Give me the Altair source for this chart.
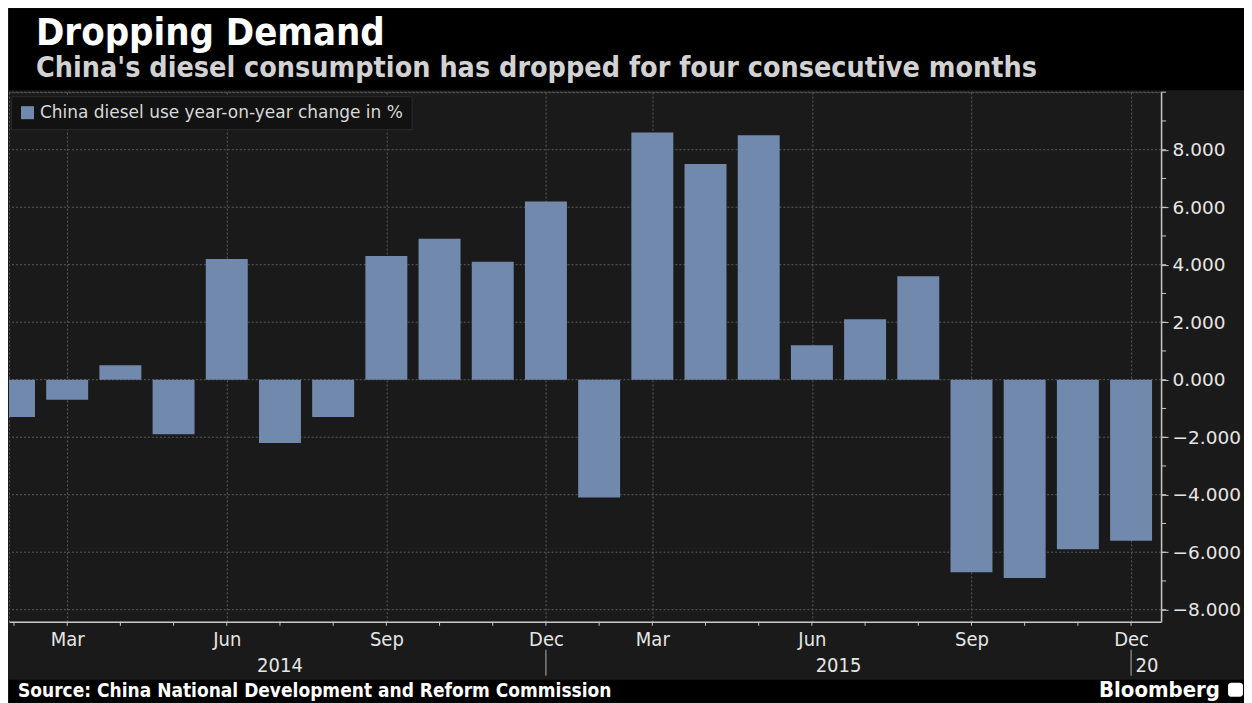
import altair as alt
import pandas as pd

# ---------------- data ----------------
MONTHS = ["Jan-Feb", "Mar", "Apr", "May", "Jun", "Jul", "Aug", "Sep", "Oct", "Nov", "Dec",
          "Jan-Feb", "Mar", "Apr", "May", "Jun", "Jul", "Aug", "Sep", "Oct", "Nov", "Dec"]
YEARS = [2014] * 11 + [2015] * 11
VALUES = [-1.3, -0.7, 0.5, -1.9, 4.2, -2.2, -1.3, 4.3, 4.9, 4.1, 6.2,
          -4.1, 8.6, 7.5, 8.5, 1.2, 2.1, 3.6, -6.7, -6.9, -5.9, -5.6]
SERIES = "China diesel use year-on-year change in %"
LABELED_MONTHS = ["Mar", "Jun", "Sep", "Dec"]
Y_LABEL_TICKS = [-8, -6, -4, -2, 0, 2, 4, 6, 8]
Y_GRID = [-8, -6, -4, -2, 0, 2, 4, 6, 8, 10]
Y_MINOR = list(range(-8, 11))
YEAR_LABELS = ["2014", "2015", "20"]
YEAR_POS = [5.0, 15.5, 21.3]
YEAR_SEPARATORS = [10, 21]
TITLE = "Dropping Demand"
SUBTITLE = "China's diesel consumption has dropped for four consecutive months"
SOURCE = "Source: China National Development and Reform Commission"
BRAND = "Bloomberg"

# ---------------- style ----------------
W, H = 1153, 530
BAR = "#7189ad"
BG = "#1a1a1a"
TXT = "#e6e6e6"
GRID = "#5c5c5c"
AX = "#c8c8c8"
NARROW = "DejaVu Sans Condensed, Liberation Sans Narrow, DejaVu Sans"

df = pd.DataFrame({"slot": list(range(len(MONTHS))), "month": MONTHS, "year": YEARS,
                   "value": VALUES, "series": [SERIES] * len(MONTHS)})
label_slots = [i for i, m in enumerate(MONTHS) if m in LABELED_MONTHS]
label_expr = "[" + ",".join("'%s'" % m for m in MONTHS) + "][datum.value]"

xscale = alt.Scale(domain=[0, 21.47], nice=False, zero=False)
yscale = alt.Scale(domain=[-8.42, 10], nice=False, zero=False)

xaxis = alt.Axis(values=label_slots, labelExpr=label_expr, title=None,
                 grid=True, gridColor=GRID, gridDash=[2, 2], ticks=False,
                 domainColor=AX, domainWidth=1.5, labelColor=TXT,
                 labelFont=NARROW, labelFontSize=20, labelPadding=8,
                 labelBaseline="top")
yaxis = alt.Axis(orient="right", values=Y_LABEL_TICKS, format=".3f", title=None,
                 grid=False, domainColor=AX, domainWidth=1.5, tickColor=AX,
                 tickSize=7, labelColor=TXT, labelFont="DejaVu Sans",
                 labelFontSize=18.5, labelPadding=4)

one = pd.DataFrame({"k": [0]})

header = alt.Chart(one).mark_rect(color="#000000").encode(
    x=alt.value(0), x2=alt.value(1236), y=alt.value(-84), y2=alt.value(-2))
footer = alt.Chart(one).mark_rect(color="#000000").encode(
    x=alt.value(0), x2=alt.value(1236), y=alt.value(588), y2=alt.value(611))
icon = alt.Chart(one).mark_rect(color="#ffffff", cornerRadius=3).encode(
    x=alt.value(1220), x2=alt.value(1235), y=alt.value(591), y2=alt.value(605))

title = alt.Chart(pd.DataFrame({"t": [TITLE]})).mark_text(
    align="left", baseline="alphabetic", font=NARROW, fontWeight="bold", fontSize=38,
    color="#ffffff").encode(x=alt.value(27), y=alt.value(-47), text="t:N")
subtitle = alt.Chart(pd.DataFrame({"t": [SUBTITLE]})).mark_text(
    align="left", baseline="alphabetic", font=NARROW, fontWeight="bold", fontSize=28.5,
    color="#d2d2d2").encode(x=alt.value(27), y=alt.value(-15), text="t:N")

bars = alt.Chart(df).mark_bar(size=42, clip=True, orient="vertical").encode(
    x=alt.X("slot:Q", scale=xscale, axis=xaxis),
    y=alt.Y("value:Q", scale=yscale, axis=yaxis),
    color=alt.Color("series:N", scale=alt.Scale(range=[BAR]),
                    legend=alt.Legend(title=None, orient="none", legendX=2, legendY=4,
                                      fillColor="#121212", strokeColor="#2c2c2c",
                                      padding=8, symbolType="square", symbolSize=170,
                                      symbolStrokeWidth=0, labelColor="#d8d8d8",
                                      labelFont="DejaVu Sans", labelFontSize=17,
                                      labelLimit=500)),
    tooltip=["year:N", "month:N", "value:Q"])

ygrid = alt.Chart(pd.DataFrame({"v": Y_GRID})).mark_rule(
    color=GRID, strokeDash=[2, 2], strokeWidth=1).encode(
    y=alt.Y("v:Q", scale=yscale, axis=yaxis))

xminor = alt.Chart(df).mark_rule(color=AX, strokeWidth=1).encode(
    x=alt.X("slot:Q", scale=xscale, axis=xaxis), y=alt.value(H), y2=alt.value(H + 4))
yminor = alt.Chart(pd.DataFrame({"v": Y_MINOR})).mark_rule(color=AX, strokeWidth=1).encode(
    y=alt.Y("v:Q", scale=yscale, axis=yaxis), x=alt.value(W), x2=alt.value(W + 5))

years = alt.Chart(pd.DataFrame({"pos": YEAR_POS, "lab": YEAR_LABELS})).mark_text(
    align="center", baseline="alphabetic", font=NARROW, fontSize=20, color=TXT).encode(
    x=alt.X("pos:Q", scale=xscale, axis=xaxis), y=alt.value(H + 50), text="lab:N")
seps = alt.Chart(pd.DataFrame({"s": YEAR_SEPARATORS})).mark_rule(color="#b0b0b0").encode(
    x=alt.X("s:Q", scale=xscale, axis=xaxis), y=alt.value(H + 28), y2=alt.value(H + 54))

source = alt.Chart(pd.DataFrame({"t": [SOURCE]})).mark_text(
    align="left", baseline="alphabetic", font=NARROW, fontWeight="bold", fontSize=19,
    color="#ffffff").encode(x=alt.value(9), y=alt.value(605), text="t:N")
brand = alt.Chart(pd.DataFrame({"t": [BRAND]})).mark_text(
    align="right", baseline="alphabetic", font=NARROW, fontWeight="bold", fontSize=22,
    color="#ffffff").encode(x=alt.value(1212), y=alt.value(605), text="t:N")

chart = alt.layer(header, footer, icon, ygrid, bars, xminor, yminor, years, seps,
                  title, subtitle, source, brand).properties(
    width=W, height=H, padding=0, background=BG
).configure_view(stroke=GRID, strokeDash=[2, 2], strokeWidth=1)

chart.save("out.html", embed_options={"renderer": "svg", "actions": False})
